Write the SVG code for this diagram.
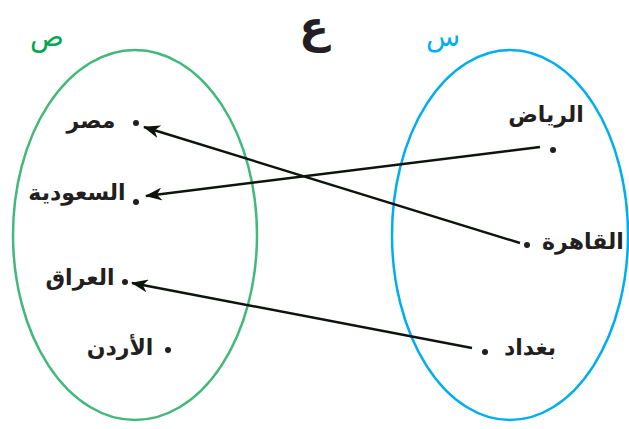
<svg xmlns="http://www.w3.org/2000/svg" width="629" height="429" viewBox="0 0 629 429">
<style>
  .lbl { font-family: "DejaVu Sans", "Noto Sans", sans-serif; font-weight: bold; font-size: 22px; fill: #231f20; text-anchor: middle; }
  .dot { fill: #231f20; }
  .conn { stroke: #0d140d; stroke-width: 2.4; fill: none; marker-end: url(#ah); }
  .set { fill: none; stroke-width: 2.5; }
</style>
<defs>
  <marker id="ah" viewBox="0 0 17 13" refX="16" refY="6.5" markerWidth="17" markerHeight="13" markerUnits="userSpaceOnUse" orient="auto">
    <path d="M0,0 L17,6.5 L0,13 L5,6.5 Z" fill="#0d140d"/>
  </marker>
</defs>
<rect width="629" height="429" fill="#ffffff"/>
<g id="titles">
  <text x="314" y="42" font-family="DejaVu Sans, sans-serif" font-weight="bold" font-size="44" fill="#231f20" text-anchor="middle">ع</text>
  <text x="47" y="46" font-family="DejaVu Sans, sans-serif" font-size="28" fill="#00a651" text-anchor="middle">ص</text>
  <text x="443" y="46" font-family="DejaVu Sans, sans-serif" font-size="28" fill="#00aeef" text-anchor="middle">س</text>
</g>
<g id="setY">
  <ellipse class="set" cx="135" cy="235" rx="122" ry="185" stroke="#41b97a"/>
</g>
<g id="setX">
  <ellipse class="set" cx="510" cy="235" rx="118" ry="185" stroke="#00aeef"/>
</g>
<g id="node-masr"><circle class="dot" cx="136" cy="123" r="3"/><text class="lbl" x="91" y="128">مصر</text></g>
<g id="node-saudia"><circle class="dot" cx="136" cy="202" r="3"/><text class="lbl" x="77" y="200">السعودية</text></g>
<g id="node-iraq"><circle class="dot" cx="125" cy="282" r="3"/><text class="lbl" x="80" y="285">العراق</text></g>
<g id="node-jordan"><circle class="dot" cx="168" cy="350" r="3"/><text class="lbl" x="120" y="355">الأردن</text></g>
<g id="node-riyadh"><circle class="dot" cx="553" cy="150" r="3"/><text class="lbl" x="546" y="122">الرياض</text></g>
<g id="node-cairo"><circle class="dot" cx="527" cy="245" r="3"/><text class="lbl" x="583" y="249">القاهرة</text></g>
<g id="node-baghdad"><circle class="dot" cx="485" cy="352" r="3"/><text class="lbl" x="530" y="355">بغداد</text></g>
<g id="connectors">
  <line class="conn" x1="520" y1="243" x2="144" y2="127"/>
  <line class="conn" x1="540" y1="147" x2="146" y2="196"/>
  <line class="conn" x1="472" y1="348" x2="132" y2="283"/>
</g>
</svg>
